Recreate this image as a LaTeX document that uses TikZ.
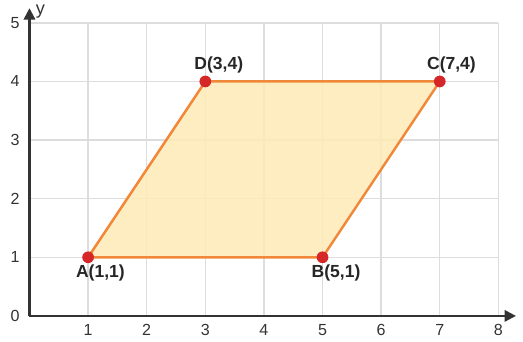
\documentclass[tikz,border=0pt]{standalone}
\usepackage{fontspec}
\setmainfont{Liberation Sans}
\usetikzlibrary{arrows.meta}
\definecolor{gridc}{HTML}{DDDDDD}
\definecolor{axisc}{HTML}{333333}
\definecolor{edgec}{HTML}{F0883A}
\definecolor{fillc}{HTML}{FDEAB5}
\definecolor{ptc}{HTML}{D62728}
\tikzset{
  gridline/.style={draw=gridc, line width=0.7pt},
  axisline/.style={draw=axisc, line width=1.1pt, -{Triangle[length=5.5pt,width=5.5pt]}},
  tick/.style={font=\fontsize{7.8}{9}\selectfont, text=axisc, inner sep=0pt},
  ptlabel/.style={font=\fontsize{8.5}{10}\selectfont\bfseries, text=black!85, inner sep=0pt},
  pt/.style={circle, fill=ptc, inner sep=0pt, minimum size=0.2cm},
}
\begin{document}
\begin{tikzpicture}[x=1cm,y=1cm]
\useasboundingbox (-0.503,-0.444) rectangle (8.42,5.39);
% grid
\foreach \i in {1,...,8} \draw[gridline] (\i,0) -- (\i,5);
\foreach \j in {1,...,5} \draw[gridline] (0,\j) -- (8,\j);
% axes
\coordinate (O) at (0,0);
\coordinate (xend) at (8.3,0);
\coordinate (yend) at (0,5.25);
\draw[axisline] (O) -- (xend);
\draw[axisline] (O) -- (yend);
\node[tick, anchor=west, font=\fontsize{8.8}{10}\selectfont] (ylab) at (0.1,5.2) {y};
\node[tick, anchor=west] (xlab) at (8.47,0.2) {x};
% tick labels
\foreach \i in {1,...,8} \node[tick] (xt\i) at (\i,-0.245) {\i};
\foreach \j in {0,...,5} \node[tick] (yt\j) at (-0.245,\j) {\j};
% parallelogram
\coordinate (A) at (1,1);
\coordinate (B) at (5,1);
\coordinate (C) at (7,4);
\coordinate (D) at (3,4);
\draw[draw=edgec, line width=1.2pt, fill=fillc, fill opacity=0.85, line join=round] (A) -- (B) -- (C) -- (D) -- cycle;
\node[pt] (pA) at (A) {};
\node[pt] (pB) at (B) {};
\node[pt] (pC) at (C) {};
\node[pt] (pD) at (D) {};
\node[ptlabel] (lA) at (1.21,0.725) {A(1,1)};
\node[ptlabel] (lB) at (5.23,0.725) {B(5,1)};
\node[ptlabel] (lC) at (7.2,4.28) {C(7,4)};
\node[ptlabel] (lD) at (3.23,4.28) {D(3,4)};
\end{tikzpicture}
\end{document}
